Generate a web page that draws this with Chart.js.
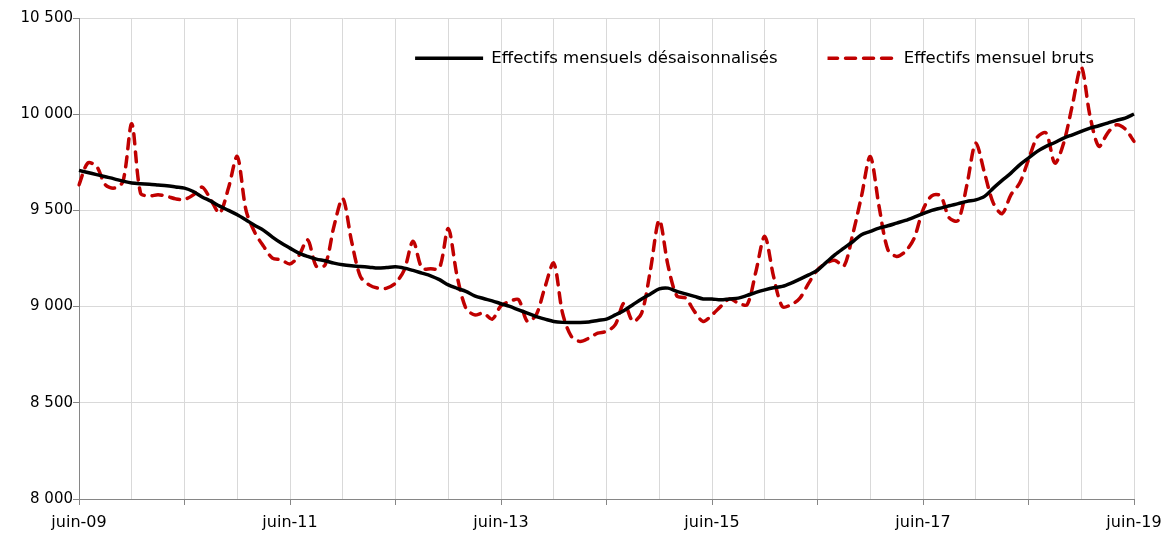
<!DOCTYPE html>
<html>
<head>
<meta charset="utf-8">
<script src="https://cdn.jsdelivr.net/npm/chart.js@4.4.1/dist/chart.umd.min.js"></script>
<style>
  html, body { margin: 0; padding: 0; background: #fff; }
  #wrap { width: 1165px; height: 538px; }
</style>
</head>
<body>
<div id="wrap"><canvas id="myChart" width="1165" height="538"></canvas></div>
<script>
// Month names (French) starting from June, years 2009 -> 2019
const moisFr = ["juin", "juil", "août", "sept", "oct", "nov", "déc", "janv", "févr", "mars", "avr", "mai"];
const anneeDebut = 2009;
const nbMois = 121;

// Effectifs mensuels désaisonnalisés (juin-09 .. juin-19)
const effectifsCvs = [
  9708, 9697, 9686, 9675, 9664, 9652, 9642, 9638, 9636, 9632, 9628, 9622,
  9616, 9598, 9570, 9548, 9522, 9500, 9477, 9450, 9422, 9396, 9361, 9330,
  9304, 9278, 9261, 9247, 9238, 9226, 9217, 9212, 9209, 9205, 9200, 9203,
  9207, 9200, 9188, 9174, 9160, 9140, 9113, 9095, 9079, 9056, 9042, 9030,
  9015, 9001, 8983, 8966, 8948, 8935, 8923, 8918, 8917, 8917, 8920, 8928,
  8935, 8957, 8980, 9010, 9040, 9066, 9092, 9096, 9079, 9066, 9053, 9040,
  9040, 9035, 9040, 9044, 9058, 9074, 9087, 9098, 9105, 9122, 9143, 9165,
  9189, 9230, 9270, 9304, 9337, 9374, 9391, 9408, 9420, 9434, 9448, 9465,
  9483, 9500, 9512, 9524, 9535, 9547, 9555, 9573, 9616, 9656, 9694, 9737,
  9772, 9807, 9833, 9853, 9876, 9893, 9911, 9928, 9940, 9954, 9968, 9980,
  10001
];

// Effectifs mensuels bruts (juin-09 .. juin-19)
const effectifsBruts = [
  9633, 9746, 9729, 9633, 9616, 9650, 9950, 9590, 9575, 9581, 9573, 9560,
  9557, 9581, 9621, 9555, 9486, 9616, 9780, 9500, 9385, 9313, 9252, 9243,
  9222, 9264, 9347, 9209, 9217, 9417, 9562, 9340, 9157, 9113, 9096, 9096,
  9122, 9191, 9340, 9200, 9197, 9200, 9405, 9160, 8992, 8957, 8966, 8935,
  9004, 9027, 9036, 8923, 8957, 9101, 9226, 8966, 8845, 8819, 8836, 8862,
  8871, 8906, 9018, 8923, 8966, 9191, 9450, 9213, 9056, 9044, 8975, 8923,
  8957, 9001, 9040, 9018, 9010, 9183, 9365, 9157, 9000, 9010, 9044, 9122,
  9191, 9226, 9240, 9210, 9374, 9573, 9780, 9521, 9296, 9261, 9287, 9356,
  9503, 9576, 9576, 9460, 9448, 9634, 9850, 9694, 9538, 9483, 9581, 9642,
  9763, 9881, 9902, 9746, 9850, 10049, 10245, 9990, 9833, 9902, 9945, 9923,
  9859
];

const yTicks = [8000, 8500, 9000, 9500, 10000, 10500];

// Build the month labels ("juin-09", "juil-09", ...)
const labels = [];
for (let i = 0; i < nbMois; i++) {
  const an = anneeDebut + Math.floor((i + 5) / 12);
  labels.push(moisFr[i % 12] + "-" + String(an).slice(-2));
}

const gridColor = "#d9d9d9";
const axisColor = "#868686";
const family = "'DejaVu Sans', sans-serif";

// Legend sits inside the plot area (top right), like the original:
// it takes no layout space and is drawn shifted into the chart area
const legendInside = {
  id: "legendInside",
  afterInit(chart) {
    const lg = chart.legend;
    const fit0 = lg.fit;
    const draw0 = lg.draw;
    lg.fit = function () {
      fit0.call(this);
      this.height = 0;
    };
    lg.draw = function () {
      const saved = { top: this.top, bottom: this.bottom, left: this.left, right: this.right, height: this.height };
      this.top = saved.top - 18;
      this.height = 80;
      this.bottom = this.top + 80;
      this.left = saved.left + 10;
      this.right = saved.right + 10;
      draw0.call(this);
      Object.assign(this, saved);
    };
  },
};

const canvas = document.getElementById("myChart").getContext("2d");

const myChart = new Chart(canvas, {
  type: "line",
  data: {
    labels: labels,
    datasets: [
      {
        label: "Effectifs mensuels désaisonnalisés",
        data: effectifsCvs,
        borderColor: "#000000",
        backgroundColor: "#000000",
        borderWidth: 3.5,
        pointRadius: 0,
        tension: 0.3,
        fill: false,
      },
      {
        label: "Effectifs mensuel bruts",
        data: effectifsBruts,
        borderColor: "#c00000",
        backgroundColor: "#c00000",
        borderWidth: 3.5,
        borderDash: [10, 8],
        borderCapStyle: "round",
        pointRadius: 0,
        tension: 0.3,
        fill: false,
      },
    ],
  },
  plugins: [legendInside],
  options: {
    responsive: false,
    animation: false,
    layout: { padding: { top: 18, right: 31, left: 0, bottom: 0 } },
    plugins: {
      tooltip: { enabled: false },
      legend: {
        position: "top",
        align: "end",
        labels: {
          // zero-height box = a line sample (keeps the dash pattern)
          boxWidth: 68,
          boxHeight: 0,
          padding: 50,
          color: "#000",
          font: { family: family, size: 16.5 },
        },
      },
    },
    scales: {
      x: {
        type: "category",
        grid: {
          color: (ctx) => (ctx.index % 6 === 0 ? gridColor : "transparent"),
          tickColor: (ctx) => (ctx.index % 12 === 0 ? axisColor : "transparent"),
          tickLength: 6,
          lineWidth: 1,
        },
        border: { color: axisColor, width: 1 },
        ticks: {
          autoSkip: false,
          maxRotation: 0,
          minRotation: 0,
          padding: 8,
          color: "#000",
          font: { family: family, size: 16 },
          callback: (val, i) => (i % 24 === 0 ? labels[i] : ""),
        },
        afterFit: (scale) => {
          scale.height = 39;
          scale.paddingLeft = 0;
          scale.paddingRight = 0;
        },
      },
      y: {
        min: 8000,
        max: 10500,
        afterBuildTicks: (scale) => { scale.ticks = yTicks.map((v) => ({ value: v })); },
        grid: { color: gridColor, tickColor: axisColor, tickLength: 6 },
        border: { color: axisColor, width: 1 },
        ticks: {
          padding: 0,
          color: "#000",
          font: { family: family, size: 15 },
          callback: (v) => v.toLocaleString("fr-FR").replace(/\s/g, " "),
        },
        afterFit: (scale) => { scale.width = 79; },
      },
    },
  },
});
</script>
</body>
</html>
